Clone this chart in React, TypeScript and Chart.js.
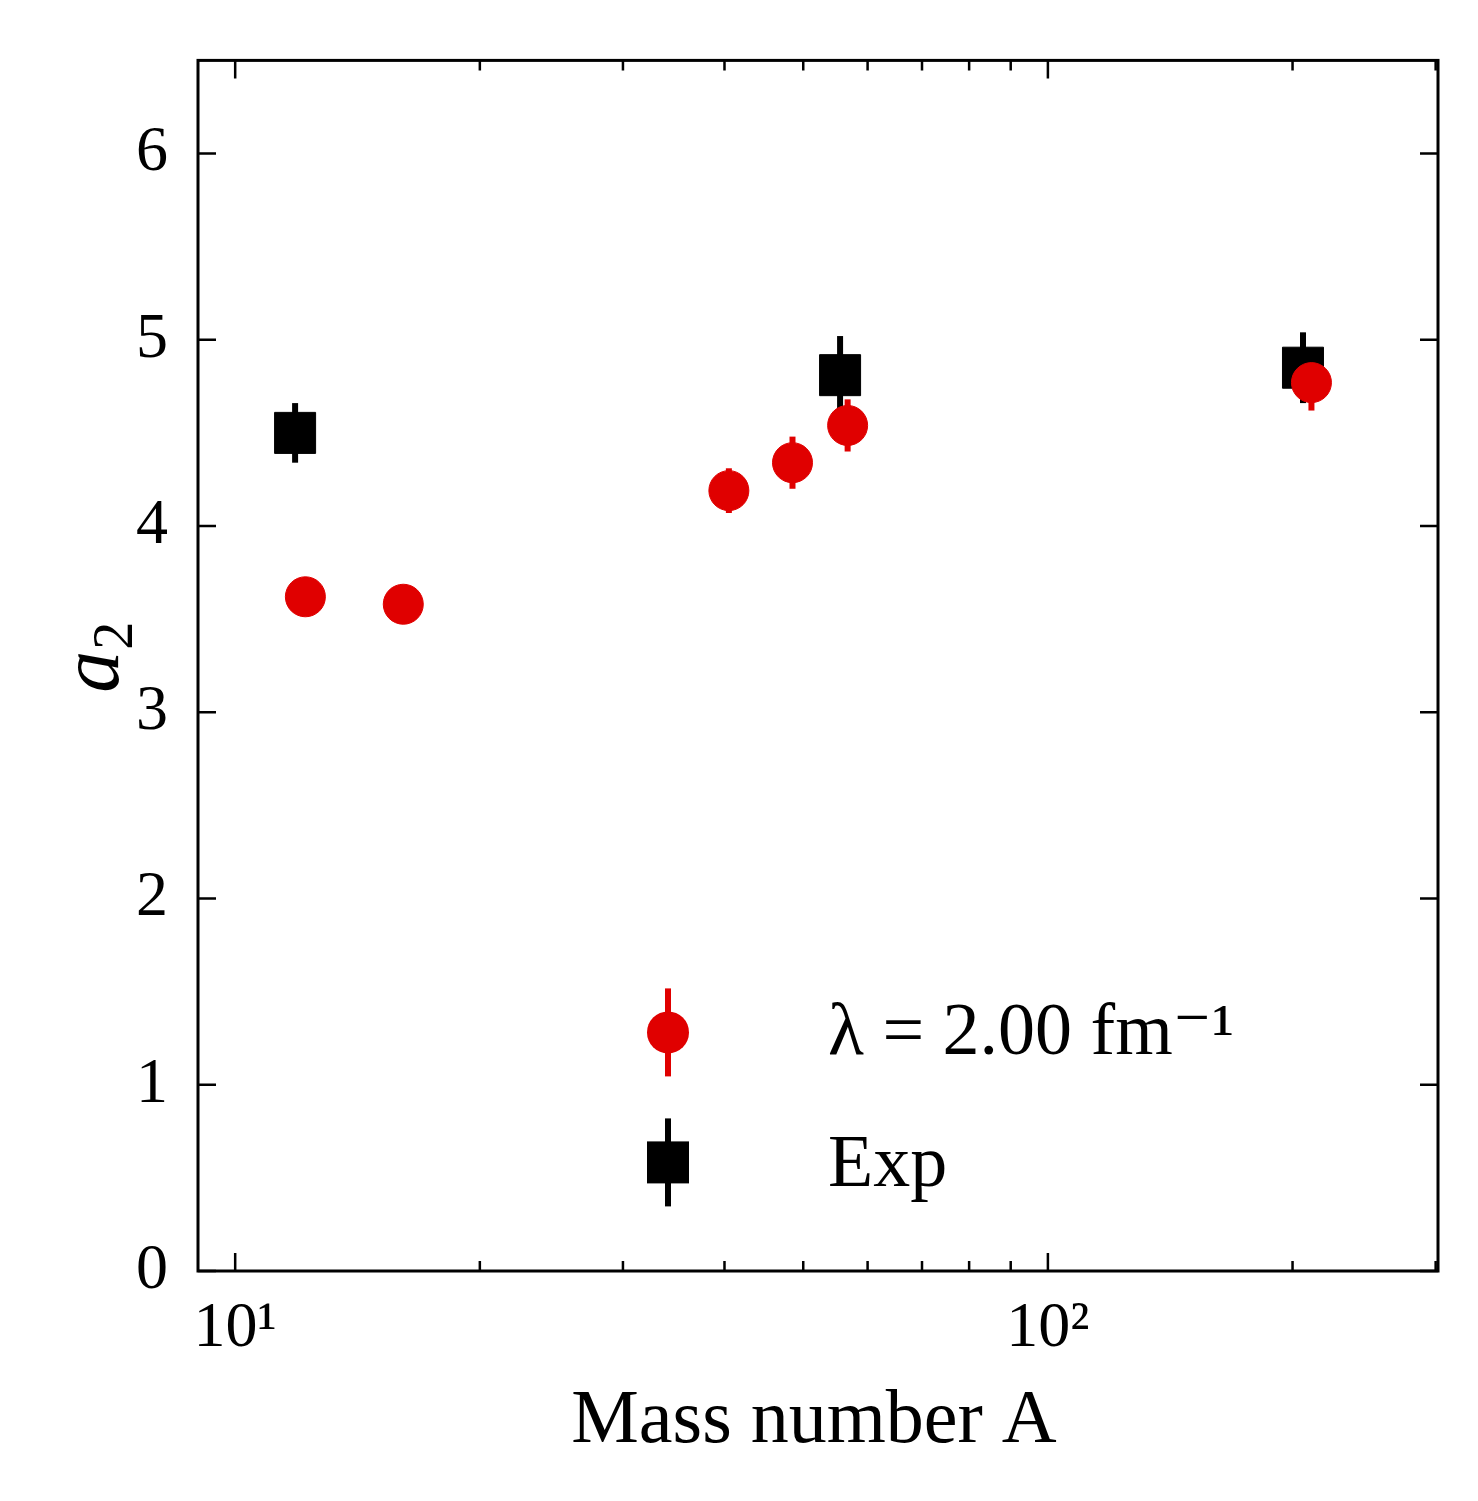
import React, { useRef, useEffect } from "react";
import { Chart, registerables } from "chart.js";

Chart.register(...registerables);

const theoryA = [12.2, 16.1, 40.5, 48.5, 56.7, 211];
const theoryA2 = [3.62, 3.58, 4.19, 4.34, 4.54, 4.77];
const theoryErr = [0.0, 0.0, 0.12, 0.14, 0.14, 0.15];
const expA = [11.85, 55.5, 206];
const expA2 = [4.5, 4.81, 4.85];
const expErr = [0.16, 0.21, 0.19];
const xTicks = [10, 20, 30, 40, 50, 60, 70, 80, 90, 100, 200, 300];
const yTicks = [0, 1, 2, 3, 4, 5, 6];

const FONT = "'Liberation Serif', 'DejaVu Serif', serif";

const framePlugin = {
  id: "frame",
  beforeDatasetsDraw(chart: any) {
    const { ctx, scales } = chart;
    const x = scales.x, y = scales.y;
    ctx.save();
    chart.data.datasets.forEach((ds: any) => {
      ctx.strokeStyle = ds.backgroundColor;
      ctx.lineWidth = 6;
      ds.data.forEach((p: any) => {
        if (!p.e) return;
        const px = x.getPixelForValue(p.x);
        ctx.beginPath();
        ctx.moveTo(px, y.getPixelForValue(p.y - p.e));
        ctx.lineTo(px, y.getPixelForValue(p.y + p.e));
        ctx.stroke();
      });
    });
    ctx.restore();
  },
  afterDatasetsDraw(chart: any) {
    const { ctx, chartArea: a, scales } = chart;
    const x = scales.x, y = scales.y;
    ctx.save();
    ctx.strokeStyle = "#000";
    ctx.lineWidth = 3;
    ctx.strokeRect(a.left, a.top, a.right - a.left, a.bottom - a.top);
    ctx.lineWidth = 2.5;
    xTicks.forEach((v) => {
      const px = x.getPixelForValue(v);
      const len = v === 10 || v === 100 ? 18 : 10;
      ctx.beginPath();
      ctx.moveTo(px, a.bottom); ctx.lineTo(px, a.bottom - len);
      ctx.moveTo(px, a.top); ctx.lineTo(px, a.top + len);
      ctx.stroke();
    });
    yTicks.forEach((v) => {
      const py = y.getPixelForValue(v);
      ctx.beginPath();
      ctx.moveTo(a.left, py); ctx.lineTo(a.left + 18, py);
      ctx.moveTo(a.right, py); ctx.lineTo(a.right - 18, py);
      ctx.stroke();
    });
    // axis titles
    ctx.fillStyle = "#000";
    ctx.textAlign = "center";
    ctx.textBaseline = "alphabetic";
    ctx.font = `76px ${FONT}`;
    ctx.fillText("Mass number A", (a.left + a.right) / 2 - 4, 1442);
    ctx.save();
    ctx.translate(118, (a.top + a.bottom) / 2);
    ctx.rotate(-Math.PI / 2);
    ctx.font = `italic 84px ${FONT}`;
    ctx.fillText("a", -6, 0);
    ctx.font = `56px ${FONT}`;
    ctx.fillText("2", 30, 14);
    ctx.restore();
    // legend
    ctx.textAlign = "left";
    const lx = a.left + 470;
    const tx = a.left + 630;
    const r1 = a.top + 972, r2 = a.top + 1102;
    ctx.strokeStyle = "#e00000";
    ctx.lineWidth = 6;
    ctx.beginPath(); ctx.moveTo(lx, r1 - 44); ctx.lineTo(lx, r1 + 44); ctx.stroke();
    ctx.fillStyle = "#e00000";
    ctx.beginPath(); ctx.arc(lx, r1, 21, 0, Math.PI * 2); ctx.fill();
    ctx.strokeStyle = "#000";
    ctx.beginPath(); ctx.moveTo(lx, r2 - 44); ctx.lineTo(lx, r2 + 44); ctx.stroke();
    ctx.fillStyle = "#000";
    ctx.fillRect(lx - 21, r2 - 21, 42, 42);
    ctx.font = `74px ${FONT}`;
    ctx.textBaseline = "middle";
    ctx.fillText("λ = 2.00 fm⁻¹", tx, r1 + 2);
    ctx.fillText("Exp", tx, r2 + 4);
    ctx.restore();
  },
};

export default function App() {
  const canvasRef = useRef<HTMLCanvasElement | null>(null);

  useEffect(() => {
    document.body.style.margin = "0";
    const ctx = canvasRef.current?.getContext("2d");
    if (!ctx) return;
    const chart = new Chart(ctx, {
      type: "scatter",
      data: {
        datasets: [
          {
            label: "theory",
            data: theoryA.map((v, i) => ({ x: v, y: theoryA2[i], e: theoryErr[i] })),
            backgroundColor: "#e00000",
            borderColor: "#e00000",
            pointRadius: 20,
            pointHoverRadius: 20,
            pointStyle: "circle",
          },
          {
            label: "Exp",
            data: expA.map((v, i) => ({ x: v, y: expA2[i], e: expErr[i] })),
            backgroundColor: "#000000",
            borderColor: "#000000",
            pointRadius: 29,
            pointHoverRadius: 29,
            pointStyle: "rect",
          },
        ] as any,
      },
      options: {
        animation: false,
        responsive: false,
        devicePixelRatio: 1,
        layout: { padding: { top: 40, right: 40, left: 0, bottom: 0 } },
        plugins: { legend: { display: false }, tooltip: { enabled: false } },
        scales: {
          x: {
            type: "logarithmic",
            min: 9,
            max: 302,
            grid: { display: false },
            border: { display: false },
            afterBuildTicks: (s: any) => {
              s.ticks = xTicks.map((v) => ({ value: v }));
            },
            afterFit: (s: any) => {
              s.height = 230;
            },
            ticks: {
              autoSkip: false,
              maxRotation: 0,
              padding: 12,
              color: "#000",
              font: { family: FONT, size: 64 },
              callback: (v: any) => (v === 10 ? "10¹" : v === 100 ? "10²" : ""),
            },
          },
          y: {
            min: 0,
            max: 6.5,
            grid: { display: false },
            border: { display: false },
            afterBuildTicks: (s: any) => {
              s.ticks = yTicks.map((v) => ({ value: v }));
            },
            afterFit: (s: any) => {
              s.width = 198;
            },
            ticks: {
              padding: 22,
              color: "#000",
              font: { family: FONT, size: 64 },
            },
          },
        },
      },
      plugins: [framePlugin],
    });
    return () => chart.destroy();
  }, []);

  return <canvas ref={canvasRef} width={1478} height={1501} style={{ display: "block" }} />;
}
